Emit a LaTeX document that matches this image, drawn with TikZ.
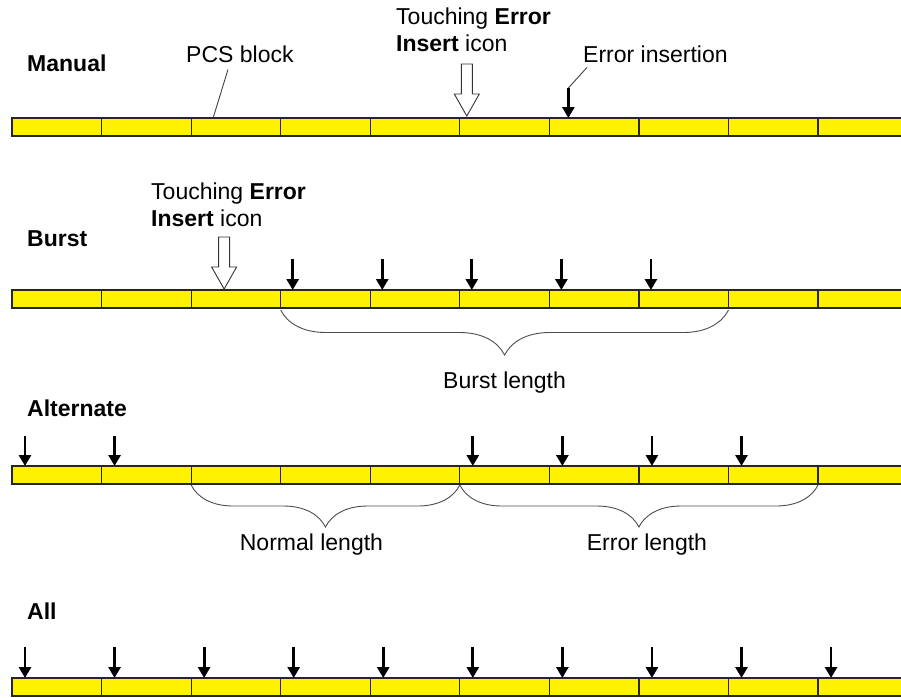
\documentclass[tikz,border=0pt]{standalone}
\usepackage{fontspec}
\setmainfont{Liberation Sans}
\usetikzlibrary{arrows.meta,decorations.pathreplacing}
\tikzset{
  pcsblock/.style={draw=black!85, line width=1.2pt, fill=yellow, minimum width=89.56pt,
    minimum height=18pt, inner sep=0pt, outer sep=0pt, anchor=north west},
  errarrow/.style={line width=2.8pt, -{Triangle[width=12pt,length=11pt]}},
  leader/.style={draw=black!75, line width=0.9pt},
  lbl/.style={inner sep=0pt, anchor=base west},
  lenbrace/.style={draw=black!70, line width=0.9pt, decorate, decoration={brace, amplitude=#1}},
  pics/insarrow/.style={code={
    \draw[black!80, line width=0.9pt, fill=white] (0,0) -- (-12.5,-22) -- (-5.5,-22) -- (-5.5,-52)
      -- (5.5,-52) -- (5.5,-22) -- (12.5,-22) -- cycle;}}
}
\begin{document}
\begin{tikzpicture}[x=1pt, y=-1pt, font=\fontsize{23}{27}\selectfont]
\useasboundingbox (0,0) rectangle (901,697);
\clip (0,0) rectangle (901,697);
\foreach \r/\y in {man/118, bur/290, alt/466, all/678}
  \foreach \i in {0,...,9}
    \node[pcsblock] (\r-\i) at ({12+89.56*\i}, \y) {};

\node[lbl] (manual) at (27,71) {\textbf{Manual}};
\node[lbl] (pcs) at (186,62) {PCS block};
\draw[leader] ([xshift=42pt,yshift=-7pt]pcs.south west) -- ([xshift=22pt]man-2.north west);
\node[lbl, anchor=north west, align=left] (touch1) at (396,8) {Touching \textbf{Error}\\\textbf{Insert} icon};
\pic at ([xshift=7pt,yshift=2pt]man-5.north west) {insarrow};
\node[lbl] (errins) at (583,62) {Error insertion};
\coordinate (insert) at ([xshift=19pt,yshift=30pt]man-6.north west);
\draw[errarrow] (insert) -- (insert |- man-6.north);
\draw[leader] ([xshift=4pt,yshift=-5pt]errins.south west) -- (insert);

\node[lbl] (burst) at (27,246) {\textbf{Burst}};
\node[lbl, anchor=north west, align=left] (touch2) at (151,183) {Touching \textbf{Error}\\\textbf{Insert} icon};
\pic at ([xshift=33pt,yshift=1pt]bur-2.north west) {insarrow};
\foreach \i in {3,...,7}
  \draw[errarrow] ([xshift=12pt,yshift=31pt]bur-\i.north west) -- ([xshift=12pt]bur-\i.north west);
\draw[lenbrace=45] ([yshift=-2pt]bur-7.south east) -- node[below=61pt, inner sep=0pt] (burstlen) {Burst length} ([yshift=-2pt]bur-3.south west);

\node[lbl] (alternate) at (27,416) {\textbf{Alternate}};
\foreach \i in {0,1,5,6,7,8}
  \draw[errarrow] ([xshift=13pt,yshift=30pt]alt-\i.north west) -- ([xshift=13pt]alt-\i.north west);
\draw[lenbrace=42] ([yshift=-1pt]alt-4.south east) -- node[below=48pt, inner sep=0pt, xshift=-14pt] (normlen) {Normal length} ([yshift=-1pt]alt-2.south west);
\draw[lenbrace=42] ([yshift=-1pt]alt-8.south east) -- node[below=48pt, inner sep=0pt, xshift=8pt] (errlen) {Error length} ([yshift=-1pt]alt-5.south west);

\node[lbl] (all) at (27,619) {\textbf{All}};
\foreach \i in {0,...,9}
  \draw[errarrow] ([xshift=13pt,yshift=31pt]all-\i.north west) -- ([xshift=13pt]all-\i.north west);
\end{tikzpicture}
\end{document}
